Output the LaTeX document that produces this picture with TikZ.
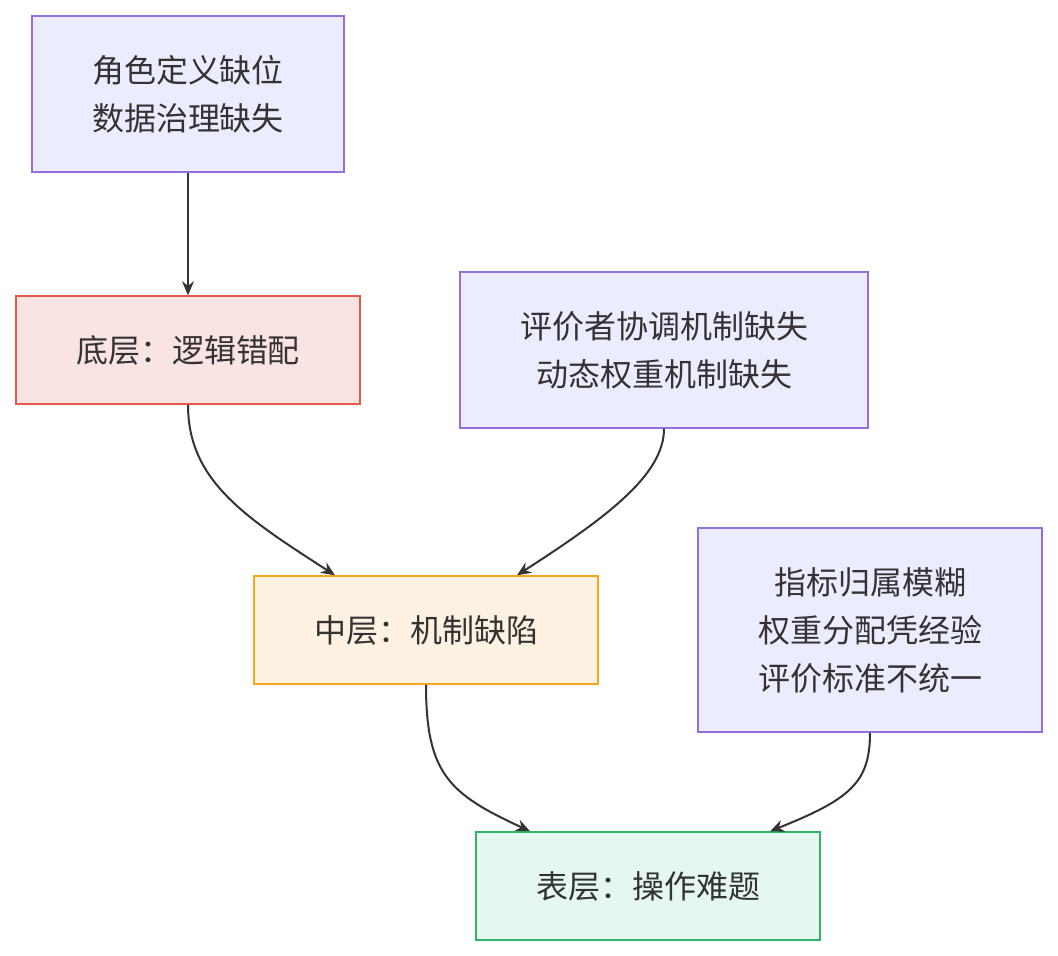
\documentclass[tikz,border=0pt]{standalone}
\usepackage{fontspec}
\newfontfamily\cjk{Noto Sans CJK SC}
\usetikzlibrary{arrows.meta}
\definecolor{txt}{HTML}{333333}
\definecolor{pfill}{HTML}{ECECFF}
\definecolor{pdraw}{HTML}{9370DB}
\definecolor{rfill}{HTML}{FAE3E3}
\definecolor{rdraw}{HTML}{E5574A}
\definecolor{ofill}{HTML}{FDF1E2}
\definecolor{odraw}{HTML}{F5A623}
\definecolor{gfill}{HTML}{E6F7F1}
\definecolor{gdraw}{HTML}{2DB36A}
\begin{document}
\begin{tikzpicture}[x=1pt,y=-1pt,
  box/.style={draw, line width=1.5pt, inner sep=0pt, align=center, text=txt,
    font=\cjk\fontsize{32}{48}\selectfont},
  purp/.style={box, fill=pfill, draw=pdraw},
  conn/.style={draw=txt, line width=2pt, -{Stealth[length=14pt,width=12pt]}}]
\useasboundingbox (0,0) rectangle (1058,956);
\node[purp, minimum width=312pt, minimum height=156pt] (A) at (188,94) {角色定义缺位\\数据治理缺失};
\node[box, fill=rfill, draw=rdraw, minimum width=344pt, minimum height=108pt] (B) at (188,350) {底层：逻辑错配};
\node[purp, minimum width=408pt, minimum height=156pt] (C) at (664,350) {评价者协调机制缺失\\动态权重机制缺失};
\node[box, fill=ofill, draw=odraw, minimum width=344pt, minimum height=108pt] (D) at (426,630) {中层：机制缺陷};
\node[purp, minimum width=344pt, minimum height=204pt] (E) at (870,630) {指标归属模糊\\权重分配凭经验\\评价标准不统一};
\node[box, fill=gfill, draw=gdraw, minimum width=344pt, minimum height=108pt] (F) at (648,886) {表层：操作难题};
\draw[conn] (A.south) -- (B.north);
\draw[conn] (B.south) .. controls +(0,76) and +(-90,-58) .. ([xshift=-91pt]D.north);
\draw[conn] (C.south) .. controls +(0,46) and +(90,-58) .. ([xshift=91pt]D.north);
\draw[conn] (D.south) .. controls +(0,90) and +(-80,-37) .. ([xshift=-118pt]F.north);
\draw[conn] (E.south) .. controls +(0,50) and +(80,-32) .. ([xshift=122pt]F.north);
\end{tikzpicture}
\end{document}
